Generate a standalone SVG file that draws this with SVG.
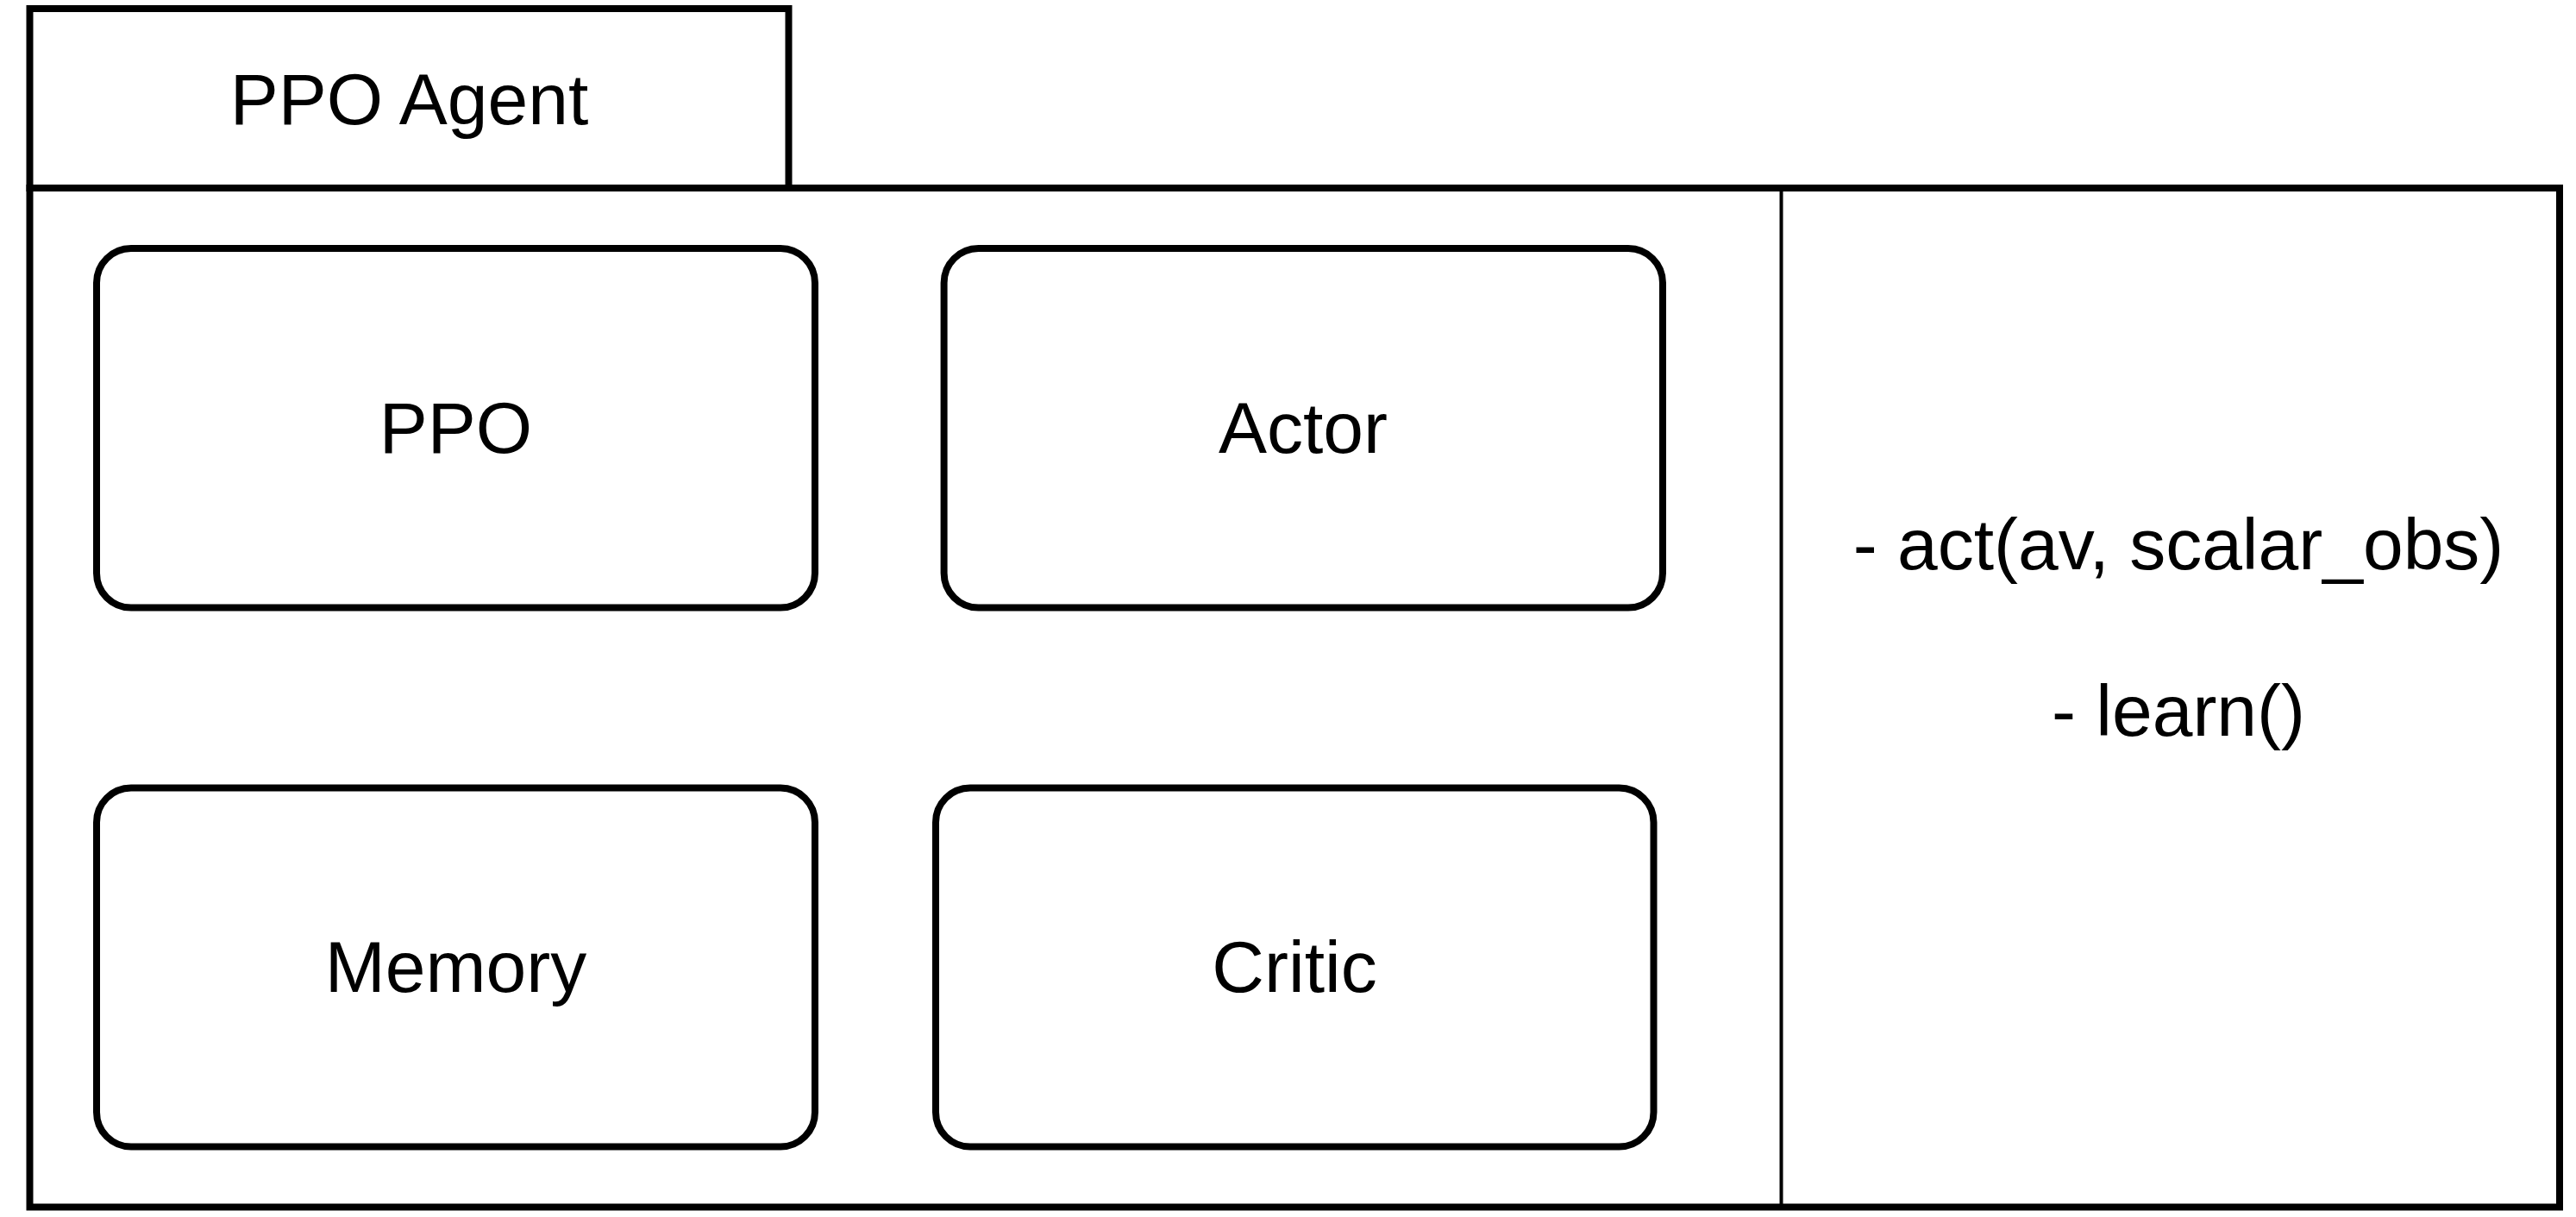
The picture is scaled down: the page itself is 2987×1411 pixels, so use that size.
<svg xmlns="http://www.w3.org/2000/svg" width="2987" height="1411" viewBox="0 0 2987 1411">
<style>
.frame{fill:none;stroke:#000;stroke-width:8}
.div{fill:none;stroke:#000;stroke-width:4}
.box{fill:#fff;stroke:#000;stroke-width:8}
.lbl{font-family:"Liberation Sans",Arial,sans-serif;font-size:84px;fill:#000;text-anchor:middle}
</style>
<rect width="2987" height="1411" fill="#fff"/>
<g id="ppo-agent">
<rect class="frame" x="34.5" y="10" width="880" height="208"/>
<text class="lbl" x="474.5" y="144">PPO Agent</text>
<rect class="frame" x="34.5" y="218" width="2933.5" height="1181.5"/>
<line class="div" x1="2065.5" y1="218" x2="2065.5" y2="1399.5"/>
</g>
<g id="ppo">
<rect class="box" x="112" y="288" width="833" height="416.6" rx="40" ry="40"/>
<text class="lbl" x="528.5" y="525">PPO</text>
</g>
<g id="actor">
<rect class="box" x="1094.6" y="288" width="833.4" height="416.6" rx="40" ry="40"/>
<text class="lbl" x="1511" y="525">Actor</text>
</g>
<g id="memory">
<rect class="box" x="112" y="913.5" width="833" height="416" rx="40" ry="40"/>
<text class="lbl" x="528.5" y="1150">Memory</text>
</g>
<g id="critic">
<rect class="box" x="1085" y="913.5" width="832.5" height="416" rx="40" ry="40"/>
<text class="lbl" x="1501" y="1150">Critic</text>
</g>
<g id="methods">
<text class="lbl" x="2526" y="660">- act(av, scalar_obs)</text>
<text class="lbl" x="2526" y="853">- learn()</text>
</g>
<g id="connectors"/>
</svg>
